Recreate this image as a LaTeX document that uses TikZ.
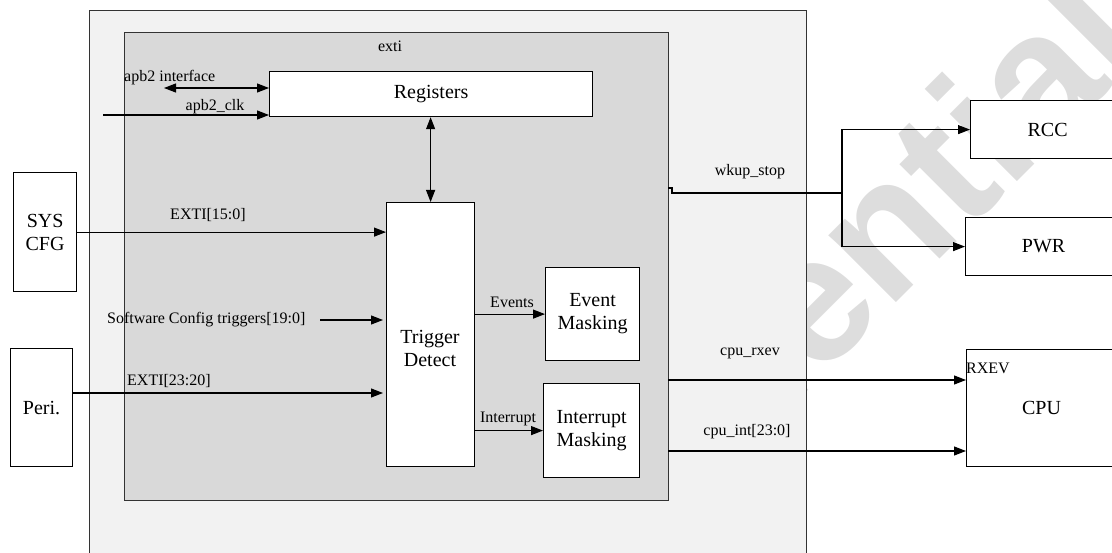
\documentclass[tikz,border=0pt]{standalone}
\usepackage{fontspec}
\setmainfont{Liberation Serif}
\newfontfamily\wmfamily{Liberation Sans}
\usetikzlibrary{arrows.meta}

\definecolor{socfill}{HTML}{F2F2F2}
\definecolor{extifill}{HTML}{D9D9D9}
\definecolor{wmgray}{HTML}{DDDDDD}
\definecolor{frame}{HTML}{333333}

\newcommand\bigtxt{\fontsize{20}{23}\selectfont}
\newcommand\smalltxt{\fontsize{16}{18}\selectfont}

\tikzset{
  blk/.style={draw=black, line width=1.2pt, fill=white, inner sep=0pt,
    align=center, font=\bigtxt, anchor=north west},
  sig/.style={line width=1.1pt, draw=black},
  tip/.style={sig, -{Triangle[length=12pt,width=9pt]}},
  dtip/.style={sig, {Triangle[length=12pt,width=9pt]}-{Triangle[length=12pt,width=9pt]}},
  lbl/.style={font=\smalltxt, inner sep=0pt},
  txt/.style={font=\bigtxt, inner sep=0pt, align=center}
}

\begin{document}
\begin{tikzpicture}[x=1pt,y=-1pt]
\useasboundingbox (0,0) rectangle (1112,553);
\clip (0,0) rectangle (1112,553);

% watermark behind everything
\node[font=\wmfamily\bfseries\fontsize{180}{180}\selectfont, text=wmgray,
  rotate=45, anchor=base west, inner sep=0pt] (wm) at (414,785) {Confidential};

% chip area and EXTI block
\node[draw=frame, line width=1.2pt, fill=socfill, anchor=north west,
  minimum width=717pt, minimum height=580pt, inner sep=0pt] (soc) at (89,10) {};
\node[draw=frame, line width=1.4pt, fill=extifill, anchor=north west,
  minimum width=544.5pt, minimum height=468pt, inner sep=0pt] (exti) at (123.5,32) {};
\node[lbl] (extilbl) at (390,46) {exti};

% internal blocks
\node[blk, minimum width=323pt, minimum height=45pt] (reg) at (269,71) {Registers};
\node[blk, minimum width=88pt, minimum height=264pt] (trig) at (386,202) {};
\node[txt] (trigtxt) at (430,348) {Trigger\\Detect};
\node[blk, minimum width=94pt, minimum height=93pt] (evm) at (545,267) {Event\\Masking};
\node[blk, minimum width=96pt, minimum height=94pt] (intm) at (543,383) {Interrupt\\Masking};

% external blocks
\node[blk, minimum width=63pt, minimum height=119pt] (sys) at (13,172) {SYS\\CFG};
\node[blk, minimum width=62pt, minimum height=118pt] (peri) at (10,348) {Peri.};
\node[blk, minimum width=154pt, minimum height=58pt] (rcc) at (970,100) {RCC};
\node[blk, minimum width=156pt, minimum height=58pt] (pwr) at (965,217) {PWR};
\node[blk, minimum width=150pt, minimum height=117pt] (cpu) at (966,349) {CPU};
\node[lbl, anchor=west] (rxev) at (966,368) {RXEV};

% bus interface
\coordinate (apbl) at (164,88);
\draw[dtip] (apbl) -- (apbl -| reg.west);
\node[lbl, anchor=west] (apblbl) at (124,78) {apb2 interface};
\coordinate (clk) at (103,115);
\draw[tip] (clk) -- (clk -| reg.west);
\node[lbl] (clklbl) at (215,107) {apb2\_clk};
\draw[dtip] (trig.north) -- (trig.north |- reg.south);

% trigger inputs
\draw[tip] (sys.east) -- (sys.east -| trig.west);
\node[lbl] (e15) at (208,215) {EXTI[15:0]};
\node[lbl, anchor=west] (sw) at (107,320) {Software Config triggers[19:0]};
\coordinate (swbeg) at (320,320);
\coordinate (swend) at (383,320);
\draw[tip] (swbeg) -- (swend);
\coordinate (perio) at (72,393);
\coordinate (perin) at (383,393);
\draw[tip] (perio) -- (perin);
\node[lbl, anchor=west] (e23) at (127,381) {EXTI[23:20]};

% trigger outputs
\draw[tip] (evm.west -| trig.east) -- (evm.west);
\node[lbl] (evlbl) at (512,302) {Events};
\draw[tip] (intm.west -| trig.east) -- (intm.west);
\node[lbl] (itlbl) at (508,419) {Interrupt};

% wakeup to RCC / PWR
\coordinate (wk) at (668,188);
\coordinate (br) at (842,193);
\draw[sig] (wk) -- ++(4,0) -- ++(0,5) -- (br);
\draw[tip] (br) |- (rcc.west);
\draw[tip] (br) |- (pwr.west);
\node[lbl] (wklbl) at (750,172) {wkup\_stop};

% event / interrupt to CPU
\coordinate (rx) at (668,380);
\draw[tip] (rx) -- (rx -| cpu.west);
\node[lbl] (rxlbl) at (750,353) {cpu\_rxev};
\coordinate (irq) at (668,451);
\draw[tip] (irq) -- (irq -| cpu.west);
\node[lbl] (irqlbl) at (747,432) {cpu\_int[23:0]};
\end{tikzpicture}
\end{document}
